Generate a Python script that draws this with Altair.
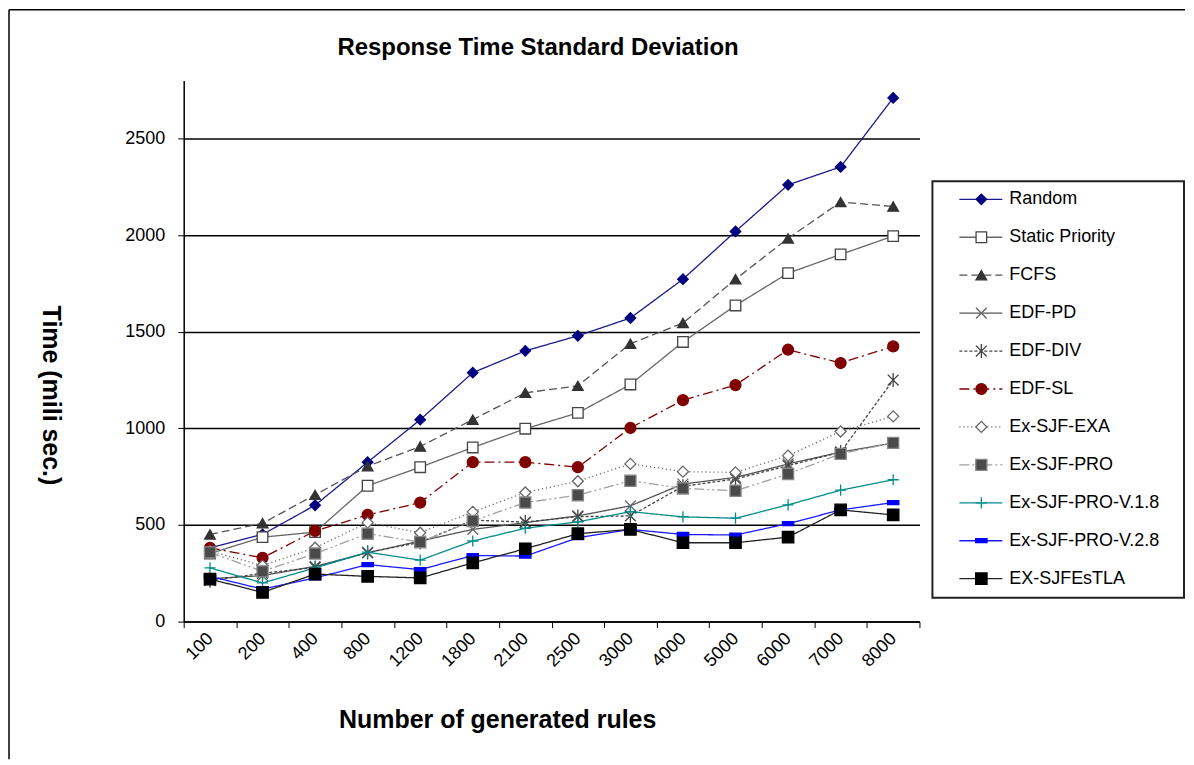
import altair as alt
import pandas as pd

chart_title = "Response Time Standard Deviation"

categories = ["100", "200", "400", "800", "1200", "1800", "2100", "2500",
              "3000", "4000", "5000", "6000", "7000", "8000"]

series_names = ["Random", "Static Priority", "FCFS", "EDF-PD", "EDF-DIV", "EDF-SL",
                "Ex-SJF-EXA", "Ex-SJF-PRO", "Ex-SJF-PRO-V.1.8", "Ex-SJF-PRO-V.2.8",
                "EX-SJFEsTLA"]

random_vals = [382, 451, 602, 825, 1045, 1288, 1401, 1479, 1571, 1772, 2019, 2260, 2353, 2710]
static_vals = [352, 437, 463, 703, 799, 901, 998, 1080, 1227, 1447, 1636, 1803, 1900, 1995]
fcfs_vals = [451, 509, 656, 804, 906, 1045, 1184, 1220, 1438, 1545, 1772, 1983, 2171, 2148]
edf_pd_vals = [222, 238, 286, 356, 417, 477, 512, 547, 599, 712, 746, 816, 877, 924]
edf_div_vals = [212, 250, 280, 358, 410, 525, 515, 543, 547, 700, 738, 807, 877, 1250]
edf_sl_vals = [382, 330, 469, 552, 616, 825, 825, 799, 1002, 1146, 1224, 1407, 1338, 1424]
exa_vals = [365, 290, 382, 512, 460, 568, 668, 726, 816, 776, 772, 859, 984, 1062]
pro_vals = [358, 260, 352, 455, 411, 521, 616, 654, 729, 689, 677, 764, 868, 925]
v18_vals = [278, 200, 278, 359, 318, 417, 483, 516, 569, 542, 535, 604, 680, 734]
v28_vals = [234, 168, 226, 295, 269, 342, 339, 434, 477, 451, 448, 507, 578, 616]
estla_vals = [220, 151, 246, 234, 226, 304, 377, 455, 477, 408, 408, 437, 578, 552]

all_vals = [random_vals, static_vals, fcfs_vals, edf_pd_vals, edf_div_vals, edf_sl_vals,
            exa_vals, pro_vals, v18_vals, v28_vals, estla_vals]

# styles
line_colors = ["#1a1a8c", "#666666", "#555555", "#555555", "#444444", "#800000",
               "#555555", "#a0a0a0", "#008c8c", "#1a1aff", "#222222"]
dashes = [[1, 0], [1, 0], [8, 4], [1, 0], [3, 2], [10, 4, 2, 4],
          [1, 3], [10, 3, 2, 3, 2, 3], [1, 0], [1, 0], [1, 0]]
shapes = ["diamond", "square", "triangle-up", "M-1,-1L1,1M-1,1L1,-1",
          "M-1,-1L1,1M-1,1L1,-1M0,-1.3L0,1.3", "circle", "diamond", "square",
          "M-1,0L1,0M0,-1L0,1", "M-1,-0.35L1,-0.35L1,0.35L-1,0.35Z", "square"]
fills = ["#000080", "#ffffff", "#333333", "transparent", "transparent", "#800000",
         "#ffffff", "#4a4a4a", "transparent", "#0000ff", "#000000"]
strokes = ["#000080", "#444444", "#333333", "#666666", "#444444", "#800000",
           "#666666", "#888888", "#008c8c", "#0000ff", "#000000"]
sizes = [110, 130, 130, 100, 120, 160, 100, 120, 100, 50, 100]

FONT = "Liberation Sans"

rows = []
for si, (name, vals) in enumerate(zip(series_names, all_vals)):
    for ci, (c, v) in enumerate(zip(categories, vals)):
        rows.append({"rules": c, "series": name, "time": v, "ci": ci, "si": si})
df = pd.DataFrame(rows)

legend_df = pd.DataFrame({"series": series_names, "idx": list(range(len(series_names)))})
one = pd.DataFrame({"t": [chart_title]})

color_enc = alt.Color("series:N", scale=alt.Scale(domain=series_names, range=line_colors), legend=None)
dash_enc = alt.StrokeDash("series:N", scale=alt.Scale(domain=series_names, range=dashes), legend=None)
shape_enc = alt.Shape("series:N", scale=alt.Scale(domain=series_names, range=shapes), legend=None)
fill_enc = alt.Fill("series:N", scale=alt.Scale(domain=series_names, range=fills), legend=None)
stroke_enc = alt.Stroke("series:N", scale=alt.Scale(domain=series_names, range=strokes), legend=None)
size_enc = alt.Size("series:N", scale=alt.Scale(domain=series_names, range=sizes), legend=None)

x_enc = alt.X(
    "rules:N", sort=categories,
    scale=alt.Scale(type="band", domain=categories, paddingInner=0, paddingOuter=0),
    axis=alt.Axis(
        title="Number of generated rules", tickBand="extent", labelAngle=-45,
        labelAlign="right", labelBaseline="middle", labelPadding=8,
        labelFontSize=18, labelColor="black", labelFont=FONT,
        tickColor="black", tickSize=6, domainColor="black", domainWidth=1.5,
        titleFontSize=25, titleFont=FONT, titleFontWeight="bold", titleColor="black",
        titleX=314, titleY=106, titleBaseline="alphabetic", titleAlign="center",
        grid=False,
    ),
)
y_enc = alt.Y(
    "time:Q",
    scale=alt.Scale(domain=[0, 2800], nice=False),
    axis=alt.Axis(
        title="Time (mili sec.)", values=[0, 500, 1000, 1500, 2000, 2500], format="d",
        grid=True, gridColor="black", gridWidth=1.5,
        domainColor="black", domainWidth=1.5, tickColor="black", tickSize=6,
        labelFontSize=18, labelColor="black", labelFont=FONT, labelPadding=13,
        titleFontSize=25, titleFont=FONT, titleFontWeight="bold", titleColor="black",
        titleAngle=90, titleX=-133, titleY=315, titleBaseline="middle", titleAlign="center",
    ),
)

base = alt.Chart(df)
lines = base.mark_line(strokeWidth=1.3).encode(
    x=x_enc, y=y_enc, color=color_enc, strokeDash=dash_enc, order=alt.Order("ci:Q"),
)
points = base.mark_point(opacity=1, strokeWidth=1.3).encode(
    x=x_enc, y=y_enc, shape=shape_enc, fill=fill_enc, stroke=stroke_enc, size=size_enc,
    order=alt.Order("si:Q"),
)

frame_left = alt.Chart(one).mark_rule(color="black", strokeWidth=1.5).encode(
    x=alt.value(-175), y=alt.value(-71), y2=alt.value(680))
frame_top = alt.Chart(one).mark_rule(color="black", strokeWidth=1.5).encode(
    x=alt.value(-175), x2=alt.value(1003), y=alt.value(-71))
title_text = alt.Chart(one).mark_text(
    fontSize=24, font=FONT, fontWeight="bold", color="black",
    align="center", baseline="middle").encode(
    x=alt.value(355), y=alt.value(-33), text="t:N")

main = alt.layer(frame_left, frame_top, title_text, lines, points).properties(
    width=737, height=542,
)

ly = alt.Y("idx:Q", scale=alt.Scale(domain=[0, 10], range=[119, 499]), axis=None)
lbox = alt.Chart(one).mark_rect(fill="white", stroke="#222222", strokeWidth=2).encode(
    x=alt.value(0), x2=alt.value(252), y=alt.value(101), y2=alt.value(518))
lrule = alt.Chart(legend_df).mark_rule(strokeWidth=1.3).encode(
    x=alt.value(27), x2=alt.value(70), y=ly, color=color_enc, strokeDash=dash_enc)
lpoint = alt.Chart(legend_df).mark_point(opacity=1, strokeWidth=1.3).encode(
    x=alt.value(49), y=ly, shape=shape_enc, fill=fill_enc, stroke=stroke_enc, size=size_enc)
ltext = alt.Chart(legend_df).mark_text(
    align="left", baseline="middle", fontSize=18, font=FONT, color="black").encode(
    x=alt.value(77), y=ly, text="series:N")

legend = alt.layer(lbox, lrule, lpoint, ltext).properties(width=252, height=542)

chart = alt.hconcat(main, legend, spacing=13, bounds="flush").properties(
    padding=0, background="white"
).configure(font=FONT).configure_view(strokeWidth=0)

chart.save("out.html", embed_options={"renderer": "svg", "actions": False})
